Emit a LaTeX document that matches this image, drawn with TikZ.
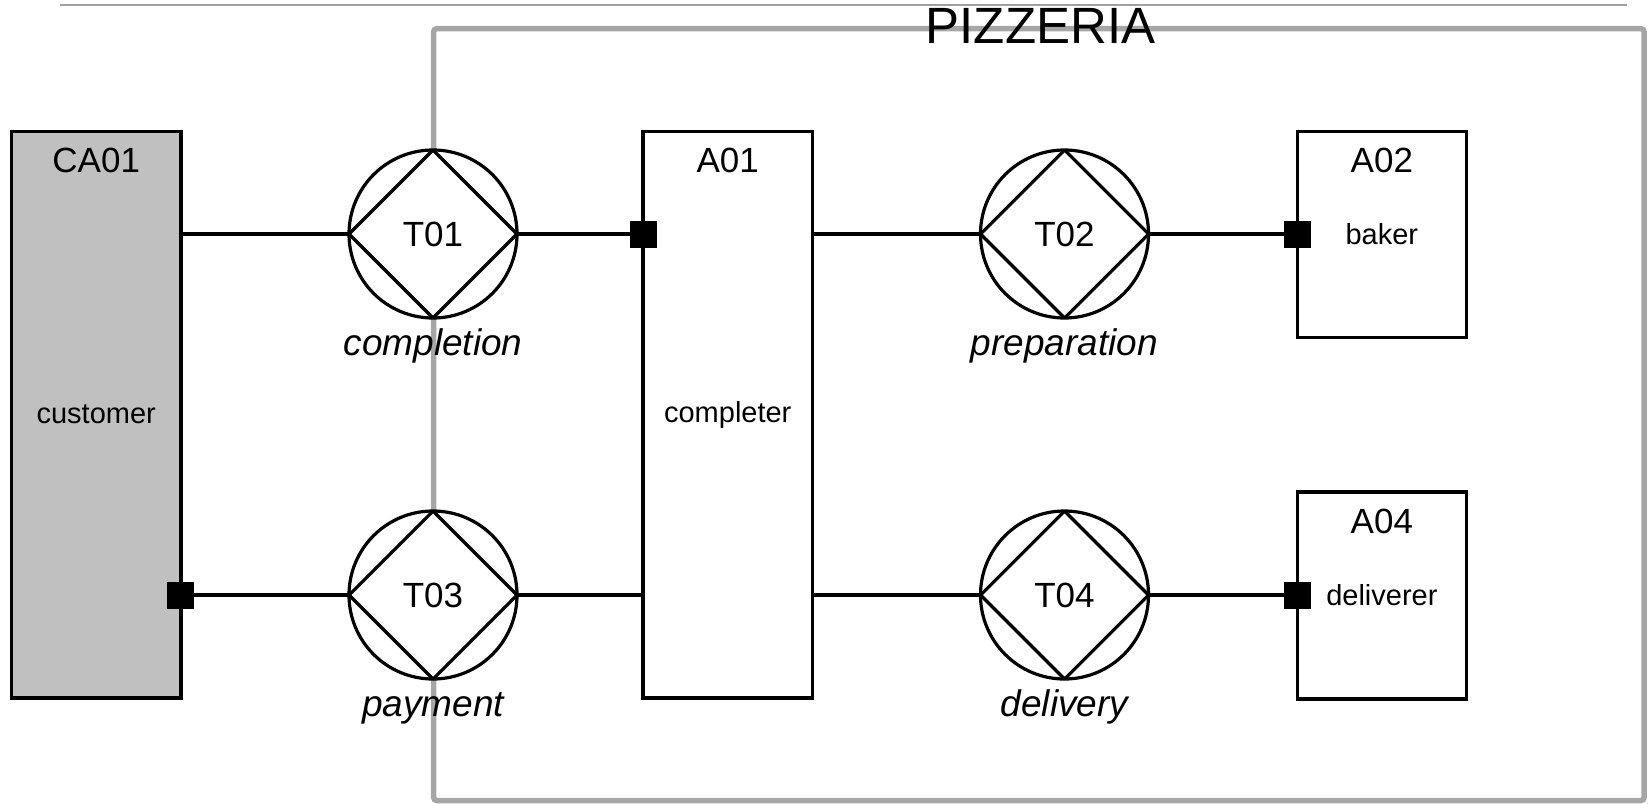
\documentclass[tikz,border=0pt]{standalone}
\usepackage{fontspec}
\setmainfont{Liberation Sans}
\usetikzlibrary{calc}
\definecolor{compfill}{HTML}{C0C0C0}
\definecolor{framegrey}{HTML}{A6A6A6}
\definecolor{rulegrey}{HTML}{A0A0A0}
\begin{document}
\begin{tikzpicture}[x=1pt,y=-1pt,
  codefont/.style={font=\fontsize{35}{40}\selectfont},
  rolefont/.style={font=\fontsize{29}{34}\selectfont},
  actor/.style={rectangle, draw, line width=3.2pt, fill=white, minimum width=169.5pt,
    inner sep=0pt, outer sep=0pt, rolefont},
  composite/.style={actor, fill=compfill},
  trans/.style={circle, draw, line width=3.2pt, fill=white, minimum size=168pt,
    inner sep=0pt, outer sep=0pt, codefont,
    path picture={\draw[line width=3.2pt]
      (path picture bounding box.north) -- (path picture bounding box.east) --
      (path picture bounding box.south) -- (path picture bounding box.west) -- cycle;}},
  code/.style={codefont, inner sep=0pt},
  tname/.style={font=\fontsize{37}{42}\selectfont\itshape, inner sep=0pt, anchor=base},
  port/.style={rectangle, fill=black, minimum size=27pt, inner sep=0pt, outer sep=0pt},
  link/.style={line width=3.2pt}]
\useasboundingbox (0,0) rectangle (1648,803);

% page rule and organisation frame
\coordinate (rule-l) at (60,5.3);
\coordinate (rule-r) at (1627,5.3);
\draw[rulegrey, line width=2pt] (rule-l) -- (rule-r);
\node[draw=framegrey, line width=5.5pt, rounded corners=3pt, minimum width=1210.3pt,
  minimum height=771.8pt, inner sep=0pt] (frame) at (1038.85,414.6) {};
\node[font=\fontsize{51}{56}\selectfont, inner sep=0pt] (title) at ($(frame.north)+(1.65,0)$) {PIZZERIA};

% actors
\node[composite, minimum height=566.5pt] (CA01) at (96.2,414.75) {customer};
\node[actor, minimum height=566.5pt] (A01) at (727.75,414.75) {completer};
\node[actor, minimum height=206pt] (A02) at (1381.85,234.5) {baker};
\node[actor, minimum height=207pt] (A04) at (1381.85,595.5) {deliverer};

\node[code] (CA01-code) at ($(CA01.north)+(0,29)$) {CA01};
\node[code] (A01-code) at ($(A01.north)+(0,29)$) {A01};
\node[code] (A02-code) at ($(A02.north)+(0,29)$) {A02};
\node[code] (A04-code) at ($(A04.north)+(0,29)$) {A04};

% transactions
\node[trans] (T01) at (433,234) {T01};
\node[trans] (T02) at (1064.5,234) {T02};
\node[trans] (T03) at (433,595) {T03};
\node[trans] (T04) at (1064.5,595) {T04};

\node[tname] (T01-name) at ($(T01.south)+(0,37)$) {completion};
\node[tname] (T02-name) at ($(T02.south)+(0,37)$) {preparation};
\node[tname] (T03-name) at ($(T03.south)+(0,37)$) {payment};
\node[tname] (T04-name) at ($(T04.south)+(0,37)$) {delivery};

% links
\draw[link] (T01 -| CA01.east) -- (T01.west);
\draw[link] (T01.east) -- (T01 -| A01.west);
\draw[link] (T02 -| A01.east) -- (T02.west);
\draw[link] (T02.east) -- (T02 -| A02.west);
\draw[link] (T03 -| CA01.east) -- (T03.west);
\draw[link] (T03.east) -- (T03 -| A01.west);
\draw[link] (T04 -| A01.east) -- (T04.west);
\draw[link] (T04.east) -- (T04 -| A04.west);

% executor ports
\node[port] (CA01-port) at (T03 -| CA01.east) {};
\node[port] (A01-port) at (T01 -| A01.west) {};
\node[port] (A02-port) at (T02 -| A02.west) {};
\node[port] (A04-port) at (T04 -| A04.west) {};
\end{tikzpicture}
\end{document}
